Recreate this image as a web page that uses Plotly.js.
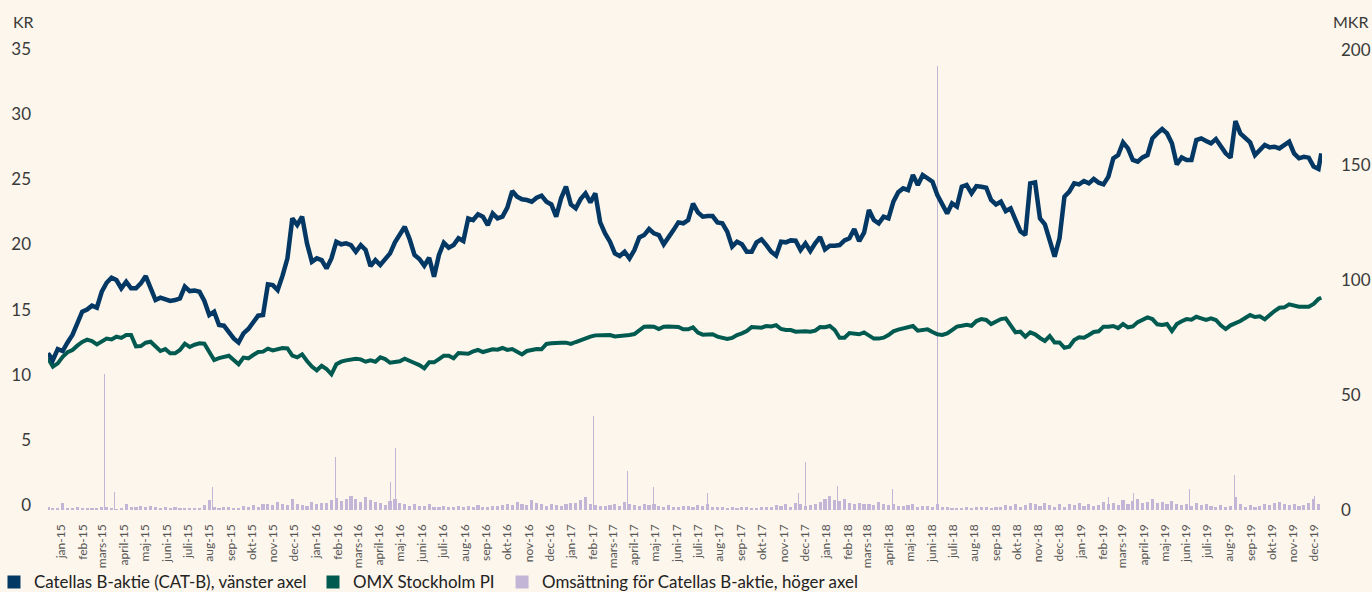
<!DOCTYPE html>
<html>
<head>
<meta charset="utf-8">
<script src="https://cdn.plot.ly/plotly-3.0.1.min.js"></script>
<style>
html,body{margin:0;padding:0;background:#fcf6ec;}
#chart{width:1372px;height:592px;}
</style>
</head>
<body>
<div id="chart"></div>
<script>
// ---- Data (weekly samples starting 2015-01-01) ----
const seriesNames = ['Catellas B-aktie (CAT-B), vänster axel', 'OMX Stockholm PI', 'Omsättning för Catellas B-aktie, höger axel'];
const monthNames = ['jan','feb','mars','april','maj','juni','juli','aug','sep','okt','nov','dec'];
const tickYears = [2015, 2016, 2017, 2018, 2019];
const firstWeek = '2015-01-01';
const lastDay = '2019-12-30';

// Catella B-aktie, KR (left axis)
const catella = [
  11.64, 11.13, 11.97, 11.82, 12.48, 13.05, 13.94, 14.84, 15.0, 15.3,
  15.14, 16.37, 17.06, 17.45, 17.27, 16.63, 17.14, 16.63, 16.63, 17.01,
  17.57, 16.68, 15.73, 15.91, 15.78, 15.66, 15.73, 15.86, 16.76, 16.42,
  16.47, 16.37, 15.66, 14.58, 14.84, 13.81, 13.76, 13.30, 12.79, 12.48,
  13.17, 13.51, 14.07, 14.53, 14.58, 16.94, 16.88, 16.50, 17.60, 18.93,
  22.0, 21.49, 22.13, 20.08, 18.67, 18.93, 18.80, 18.16, 18.93, 20.21,
  20.01, 20.08, 19.95, 19.44,
  19.95, 19.57, 18.34, 18.80, 18.42, 18.93,
  19.31, 20.16, 20.77, 21.36, 20.41, 19.19, 18.88, 18.37, 18.98, 17.52,
  19.19, 20.13, 19.75, 19.95, 20.47, 20.26, 22.0, 21.87, 22.31, 22.13,
  21.49, 22.38, 22.0, 22.13, 22.82, 24.10, 23.66, 23.46, 23.41, 23.28,
  23.59, 23.74, 23.28, 23.07, 22.13, 23.54, 24.43, 23.07, 22.77, 23.48,
  23.92, 23.23, 23.92, 21.69, 20.85, 20.21, 19.31, 19.11, 19.44, 18.93,
  19.57, 20.54, 20.72, 21.18, 20.85, 20.72, 20.01, 20.52, 21.1,
  21.69, 21.62, 21.87, 23.13, 22.46, 22.13, 22.18, 22.18, 21.69, 21.62, 20.98,
  19.83, 20.21, 20.01, 19.44, 19.44, 20.16, 20.39, 19.95, 19.44, 19.14,
  20.21, 20.16, 20.31, 20.29, 19.57, 20.08, 19.49, 20.08, 20.57, 19.62,
  19.90, 19.90, 19.95, 20.31, 20.47, 21.18, 20.26, 20.90, 22.64, 21.87,
  21.62, 22.13, 22.0, 23.28, 24.0, 24.30, 24.17, 25.33, 24.56, 25.33,
  25.02, 24.82, 23.79, 23.02, 22.38, 23.15, 22.90, 24.43, 24.56, 23.92,
  24.48, 24.43, 24.35, 23.41, 23.07,
  23.28, 22.56, 22.77, 21.87, 21.0,
  20.72, 24.69, 24.76, 22.0, 21.54, 20.34, 19.06, 20.47, 23.66, 24.05,
  24.69, 24.61, 24.87, 24.69, 25.02, 24.74, 24.61, 25.20, 26.61, 26.86,
  27.83, 27.37, 26.48, 26.35, 26.68, 26.86, 28.14, 28.52, 28.86, 28.52,
  27.76, 26.14, 26.68, 26.48, 26.48, 28.01, 28.14, 27.94, 27.76, 28.09,
  27.50, 26.99, 26.66, 29.47, 28.52, 28.19, 27.83, 26.86, 27.25, 27.63,
  27.45, 27.50, 27.37, 27.63, 27.88, 26.99, 26.61, 26.73, 26.66, 25.97, 25.79,
  26.99
];

// OMX Stockholm PI, indexed (left axis)
const omx = [
  11.26, 10.62, 10.87, 11.38, 11.72, 11.90, 12.23, 12.51, 12.69, 12.58,
  12.33, 12.53, 12.77, 12.71, 12.92, 12.82, 13.05, 13.05, 12.18, 12.20,
  12.46, 12.53, 12.13, 11.82, 11.97, 11.64, 11.64, 11.90, 12.38, 12.13,
  12.30, 12.41, 12.38, 11.77, 11.13, 11.28, 11.38, 11.46, 11.13, 10.80,
  11.31, 11.26, 11.51, 11.74, 11.77, 12.0, 11.87, 11.95, 12.05, 12.02,
  11.46, 11.33, 11.56, 11.05, 10.62, 10.34, 10.69, 10.44, 10.03, 10.80,
  11.0, 11.10, 11.13, 11.23,
  11.18, 11.0, 11.10, 11.0, 11.33, 11.20,
  10.92, 10.95, 11.03, 11.23, 11.10, 10.90, 10.74, 10.49, 10.95, 10.95,
  11.20, 11.46, 11.46, 11.26, 11.67, 11.64, 11.61, 11.79, 11.90, 11.74,
  11.84, 11.95, 11.92, 12.05, 11.90, 11.97, 11.77, 11.56, 11.82, 11.92,
  11.97, 11.95, 12.36, 12.41, 12.46, 12.46, 12.46, 12.36, 12.51, 12.66,
  12.79, 12.92, 13.02, 13.05, 13.02, 13.05, 12.94, 12.97, 12.97, 13.05,
  13.12, 13.43, 13.69, 13.71, 13.69, 13.51, 13.69, 13.71, 13.71,
  13.66, 13.48, 13.48, 13.64, 13.23, 13.07, 13.12, 13.10, 12.92, 12.79, 12.74,
  12.82, 13.05, 13.17, 13.35, 13.66, 13.61, 13.61, 13.74, 13.71, 13.81,
  13.51, 13.43, 13.43, 13.30, 13.35, 13.33, 13.30, 13.38, 13.66, 13.64,
  13.74, 13.43, 12.84, 12.84, 13.20, 13.17, 13.10, 13.25, 13.05, 12.77,
  12.77, 12.84, 13.05, 13.33, 13.46, 13.56, 13.64, 13.74, 13.38, 13.43,
  13.48, 13.28, 13.10, 13.05, 13.17, 13.43, 13.69, 13.76, 13.84, 13.76,
  14.12, 14.27, 14.20, 13.89, 14.04,
  14.27, 14.33, 13.81, 13.25, 13.30,
  12.92, 13.25, 13.10, 12.82, 12.59, 12.97, 12.48, 12.48, 12.07, 12.15,
  12.66, 12.87, 12.84, 13.05, 13.28, 13.33, 13.69, 13.69, 13.74, 13.58,
  13.89, 13.64, 13.71, 14.04, 14.20, 14.40, 14.27, 13.87, 13.81, 13.89,
  13.35, 13.89, 14.10, 14.27, 14.22, 14.45, 14.33, 14.20, 14.33, 14.20,
  13.79, 13.51, 13.79, 13.94, 14.12, 14.35, 14.58, 14.43, 14.48, 14.25,
  14.61, 14.89, 15.14, 15.17, 15.40, 15.27, 15.22, 15.22, 15.22, 15.43, 15.81,
  15.91
];

// Omsättning, MKR (right axis) – typical weekly level
const turnoverWeekly = [
  1.2, 0.8, 1.0, 2.9, 0.9, 0.7, 1.1, 0.8, 0.9, 1.0,
  0.8, 1.2, 1.5, 0.9, 0.6, 1.0, 2.6, 1.4, 1.2, 1.6,
  1.1, 1.8, 1.3, 1.0, 1.4, 0.9, 1.2, 0.8, 0.7, 0.9,
  0.8, 1.0, 2.2, 4.3, 1.5, 0.9, 1.2, 1.4, 0.9, 1.0,
  1.6, 1.2, 2.0, 1.5, 2.4, 2.8, 2.2, 3.5, 2.6, 2.0,
  4.8, 2.5,
  2.2, 1.8, 3.6, 2.5, 3.2, 2.9, 4.5, 5.2, 3.8, 4.6,
  6.2, 4.8, 3.5, 5.5, 4.2, 3.6, 3.0, 2.2, 4.0, 5.0,
  3.2, 2.5, 1.8, 2.4, 1.6, 1.9, 2.8, 1.5, 1.2, 1.8,
  1.4, 1.1, 1.6, 1.3, 1.8, 1.2, 2.2, 1.5, 1.3, 1.9,
  1.6, 2.0, 2.4, 2.0, 3.5, 2.8, 2.2, 4.5, 3.0, 2.6, 1.8, 2.4,
  2.0, 1.8, 2.6, 3.2, 3.0, 4.2, 5.5, 2.8, 2.2, 1.8,
  1.6, 2.0, 2.4, 1.8, 3.5, 2.6, 2.2, 1.6, 2.8, 2.0,
  2.4, 1.8, 1.5, 2.0, 1.4, 1.2, 1.8, 1.6, 1.2, 2.2,
  1.6, 2.8, 1.3, 1.5, 1.2, 1.0, 1.4, 0.9, 1.1, 1.3,
  1.0, 0.8, 1.2, 1.5, 1.3, 2.0, 1.8, 2.6, 1.5, 3.2, 2.4, 1.8,
  2.2, 2.8, 3.5, 4.8, 6.2, 4.5, 3.8, 5.0, 3.2, 2.6,
  3.0, 2.4, 2.8, 2.2, 3.6, 2.5, 2.0, 2.8, 1.8, 1.6,
  2.0, 2.4, 1.4, 1.8, 1.6, 1.2, 2.8, 1.5, 1.3, 1.0,
  0.8, 1.0, 1.2, 0.9, 1.4, 1.1, 1.3, 1.0, 1.5, 1.2,
  2.2, 1.8, 2.6, 1.4, 2.0, 3.0, 2.4, 1.6, 3.2, 2.0, 1.5, 2.6,
  1.5, 2.4, 2.0, 3.2, 1.8, 2.6, 1.6, 2.0, 3.4, 2.8,
  3.0, 2.2, 4.2, 2.6, 3.8, 4.6, 3.2, 3.6, 4.8, 3.0,
  3.4, 2.4, 3.8, 2.6, 2.0, 2.4, 1.8, 3.0, 2.2, 2.8,
  1.6, 1.4, 2.0, 1.5, 1.8, 5.5, 2.8, 1.4, 2.2, 1.2,
  1.8, 2.6, 2.0, 3.2, 3.6, 2.4, 2.0, 2.8, 1.6, 2.2, 3.0, 4.8, 2.6
];

// Omsättning, MKR – single trading days with large volumes
const spikeDates = ['2015-03-23','2015-04-06','2015-08-24','2016-02-17','2016-05-05','2016-05-13',
  '2017-02-20','2017-04-10','2017-05-17','2017-08-03','2017-12-11','2017-12-21','2018-02-05',
  '2018-04-25','2018-06-28','2019-02-28','2019-04-05','2019-06-24','2019-08-28','2019-12-20'];
const spikeValues = [59, 8, 10, 23, 12, 27, 41, 17, 10, 7.4, 7.5, 21, 10.5, 9, 193, 5.5, 7.4, 9.1, 15, 6.2];

const leftTicks = [0, 5, 10, 15, 20, 25, 30, 35];
const rightTicks = [0, 50, 100, 150, 200];

// ---- Build dates ----
const DAY = 864e5;
const weekDates = [];
const t0 = Date.parse(firstWeek + 'T00:00:00Z');
for (let k = 0; k < turnoverWeekly.length; k++) {
  weekDates.push(new Date(t0 + k * 7 * DAY).toISOString().slice(0, 10));
}
const lineDates = weekDates.concat([lastDay]);

const tickVals = [], tickText = [];
tickYears.forEach(y => monthNames.forEach((m, i) => {
  tickVals.push(y + '-' + String(i + 1).padStart(2, '0') + '-20');
  tickText.push(m + '-' + String(y).slice(2));
}));

// ---- Styles ----
const FONT = 'Lato, "Open Sans", "DejaVu Sans", sans-serif';
const BG = '#fcf6ec';
const C_CAT = '#033865';
const C_OMX = '#005a50';
const C_BAR = '#c3b5d5';

const traces = [
  { type: 'bar', x: weekDates, y: turnoverWeekly, yaxis: 'y', xaxis: 'x',
    marker: { color: C_BAR, line: { width: 0 } }, width: 4.5 * DAY,
    showlegend: false, hoverinfo: 'skip' },
  { type: 'bar', x: spikeDates, y: spikeValues, yaxis: 'y', xaxis: 'x',
    marker: { color: C_BAR, line: { width: 0 } }, width: 1.5 * DAY,
    showlegend: false, hoverinfo: 'skip' },
  { type: 'scatter', mode: 'lines', x: lineDates, y: omx, yaxis: 'y2', xaxis: 'x',
    line: { color: C_OMX, width: 4 }, showlegend: false },
  { type: 'scatter', mode: 'lines', x: lineDates, y: catella, yaxis: 'y2', xaxis: 'x',
    line: { color: C_CAT, width: 4.5 }, showlegend: false },
  // legend entries (square swatches), one legend box each
  { type: 'scatter', mode: 'markers', x: [null], y: [null], yaxis: 'y2', name: seriesNames[0],
    legend: 'legend', marker: { symbol: 'square', size: 13, color: C_CAT } },
  { type: 'scatter', mode: 'markers', x: [null], y: [null], yaxis: 'y2', name: seriesNames[1],
    legend: 'legend2', marker: { symbol: 'square', size: 13, color: C_OMX } },
  { type: 'scatter', mode: 'markers', x: [null], y: [null], yaxis: 'y', name: seriesNames[2],
    legend: 'legend3', marker: { symbol: 'square', size: 13, color: C_BAR } }
];

const legendBase = {
  orientation: 'h', xanchor: 'left', y: -0.156, yanchor: 'middle',
  font: { family: FONT, size: 16.9, color: '#222' },
  bgcolor: 'rgba(0,0,0,0)', itemclick: false, itemdoubleclick: false
};

const layout = {
  width: 1372, height: 592,
  paper_bgcolor: BG, plot_bgcolor: BG,
  margin: { l: 48, r: 50, t: 49, b: 82, autoexpand: false },
  font: { family: FONT, color: '#3a3a3a' },
  barmode: 'overlay',
  bargap: 0,
  xaxis: {
    type: 'date', range: ['2015-01-01', '2019-12-31'],
    tickmode: 'array', tickvals: tickVals, ticktext: tickText,
    tickangle: -90, tickfont: { family: FONT, size: 12, color: '#555' },
    showgrid: false, zeroline: false, showline: false, ticks: '',
    ticklabelstandoff: 11, automargin: false
  },
  yaxis: {
    side: 'right', range: [0, 200.4],
    tickmode: 'array', tickvals: rightTicks,
    tickfont: { family: FONT, size: 17, color: '#3a3a3a' },
    showgrid: false, zeroline: false, showline: false, ticks: '',
    ticklabelstandoff: 18, automargin: false
  },
  yaxis2: {
    overlaying: 'y', side: 'left', range: [-0.384, 35],
    tickmode: 'array', tickvals: leftTicks,
    tickfont: { family: FONT, size: 17, color: '#3a3a3a' },
    showgrid: false, zeroline: false, showline: false, ticks: '',
    ticklabelstandoff: 16, automargin: false
  },
  legend: Object.assign({}, legendBase, { x: -0.0424 }),
  legend2: Object.assign({}, legendBase, { x: 0.2080 }),
  legend3: Object.assign({}, legendBase, { x: 0.3564 }),
  annotations: [
    { text: 'KR', xref: 'paper', yref: 'paper', x: -0.0196, y: 1.0586,
      xanchor: 'center', yanchor: 'middle', showarrow: false,
      font: { family: FONT, size: 16, color: '#3a3a3a' } },
    { text: 'MKR', xref: 'paper', yref: 'paper', x: 1.022, y: 1.0586,
      xanchor: 'center', yanchor: 'middle', showarrow: false,
      font: { family: FONT, size: 16, color: '#3a3a3a' } }
  ],
  showlegend: true
};

Plotly.newPlot('chart', traces, layout, { displayModeBar: false, staticPlot: true });
</script>
</body>
</html>
